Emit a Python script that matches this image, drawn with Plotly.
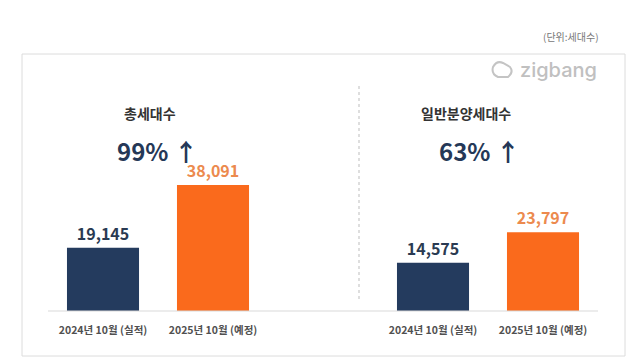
import plotly.graph_objects as go

# ---- data ----
categories = ["2024년 10월 (실적)", "2025년 10월 (예정)"]
total_units = [19145, 38091]
general_units = [14575, 23797]
panel_titles = ["총세대수", "일반분양세대수"]
growth_labels = ["99% ↑", "63% ↑"]
unit_note = "(단위:세대수)"

W, H = 640, 360
def px(x): return x / W
def py(y): return 1 - y / H

NAVY = "#243b5e"
ORANGE = "#fa6a1c"
bar_colors = [NAVY, ORANGE]
label_colors = ["#2a3a52", "#ec8a4e"]
FONT = "Noto Sans CJK KR"

fig = go.Figure()
for xa, ya, vals in [("x", "y", total_units), ("x2", "y2", general_units)]:
    fig.add_trace(go.Bar(x=categories, y=vals, xaxis=xa, yaxis=ya,
                         marker=dict(color=bar_colors, line=dict(width=0)), width=0.655,
                         text=[f"{v:,}" for v in vals], textposition="outside",
                         textfont=dict(family=FONT, size=16, color=label_colors, weight="bold"),
                         cliponaxis=False, showlegend=False))

base_y = 311
scale = 3.31 / 1000
ymax = base_y / scale
ydom = [py(base_y), 1]

axis_common = dict(showgrid=False, zeroline=False, showline=False, ticks="",
                   tickfont=dict(family=FONT, size=10.5, color="#505050", weight="bold"),
                   range=[-0.5, 1.5], ticklabelstandoff=11)
fig.update_layout(
    width=W, height=H, margin=dict(l=0, r=0, t=0, b=0),
    paper_bgcolor="white", plot_bgcolor="rgba(0,0,0,0)",
    xaxis=dict(domain=[px(48), px(268)], anchor="y", **axis_common),
    xaxis2=dict(domain=[px(378), px(598)], anchor="y2", **axis_common),
    yaxis=dict(domain=ydom, range=[0, ymax], visible=False),
    yaxis2=dict(domain=ydom, range=[0, ymax], visible=False),
    font=dict(family=FONT),
)

shapes = [
    dict(type="rect", xref="paper", yref="paper", x0=px(22), x1=px(625), y0=py(356), y1=py(54),
         line=dict(color="#dcdcdc", width=1), fillcolor="rgba(0,0,0,0)", layer="below"),
    dict(type="line", xref="paper", yref="paper", x0=px(48), x1=px(598), y0=py(base_y), y1=py(base_y),
         line=dict(color="#d9d9d9", width=1)),
    dict(type="line", xref="paper", yref="paper", x0=px(359), x1=px(359), y0=py(86), y1=py(302),
         line=dict(color="#bdbdbd", width=1, dash="dot")),
    dict(type="path", xref="paper", yref="paper",
         path=(f"M {px(493)},{py(67)} Q {px(497)},{py(60)} {px(503)},{py(63)} "
               f"L {px(510)},{py(67)} Q {px(514)},{py(72)} {px(508)},{py(77)} "
               f"L {px(498)},{py(77)} Q {px(491)},{py(74)} {px(493)},{py(67)} Z"),
         line=dict(color="#c4c4c4", width=2), fillcolor="rgba(0,0,0,0)"),
]
fig.update_layout(shapes=shapes)

ann = [
    dict(x=px(601), y=py(37), text=unit_note, xanchor="right", yanchor="middle",
         font=dict(size=10, color="#777")),
    dict(x=px(599), y=py(70), text="zigbang", xanchor="right", yanchor="middle",
         font=dict(family="Inter", size=20, color="#c0c0c0", weight=500)),
    dict(x=px(150), y=py(113), text=f"<b>{panel_titles[0]}</b>", xanchor="center", yanchor="middle",
         font=dict(size=14, color="#333")),
    dict(x=px(466), y=py(113), text=f"<b>{panel_titles[1]}</b>", xanchor="center", yanchor="middle",
         font=dict(size=14, color="#333")),
    dict(x=px(157), y=py(150), text=f"<b>{growth_labels[0]}</b>", xanchor="center", yanchor="middle",
         font=dict(size=24, color="#253857")),
    dict(x=px(479), y=py(150), text=f"<b>{growth_labels[1]}</b>", xanchor="center", yanchor="middle",
         font=dict(size=24, color="#253857")),
]
for a in ann:
    a.update(xref="paper", yref="paper", showarrow=False)
fig.update_layout(annotations=ann)

fig.write_html("out.html", config={"displayModeBar": False},
               post_script="document.body.style.margin='0';")
